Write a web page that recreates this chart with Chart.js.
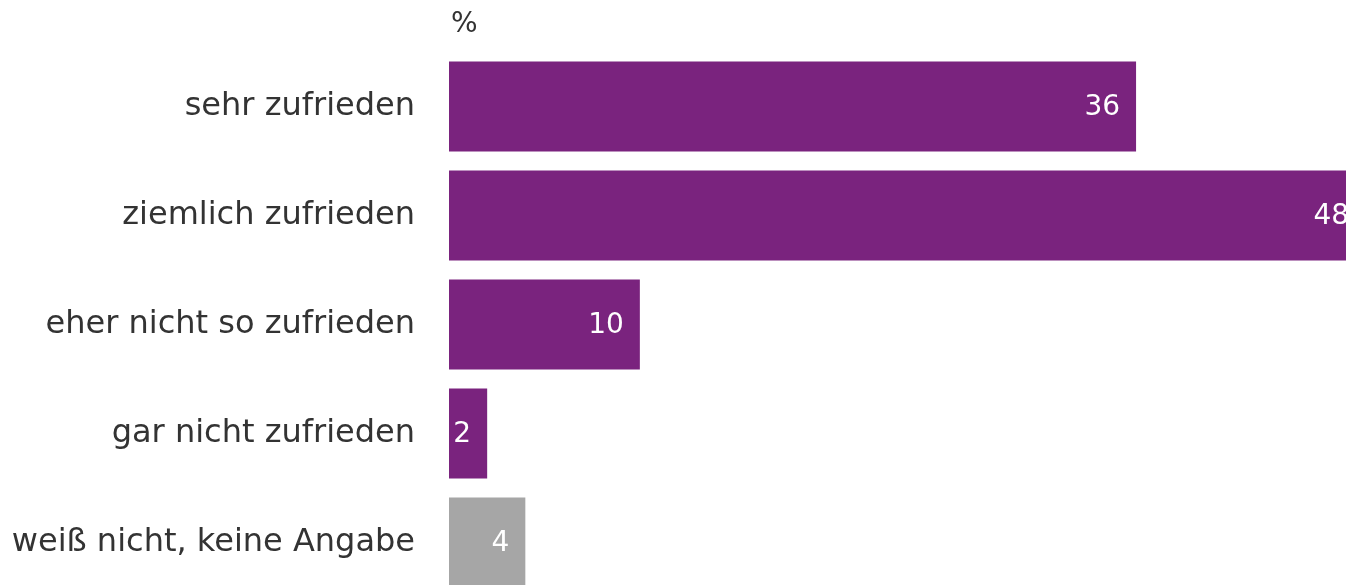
<!DOCTYPE html>
<html>
<head>
<meta charset="utf-8">
<script src="https://cdn.jsdelivr.net/npm/chart.js@4"></script>
<style>
  html, body { margin: 0; padding: 0; background: #fff; overflow: hidden; }
  canvas { display: block; }
</style>
</head>
<body>
<canvas id="chart" width="1346" height="597"></canvas>
<script>
const categories = ["sehr zufrieden", "ziemlich zufrieden", "eher nicht so zufrieden", "gar nicht zufrieden", "weiß nicht, keine Angabe"];
const values = [36, 48, 10, 2, 4];
const barColors = ["#7a237e", "#7a237e", "#7a237e", "#7a237e", "#a6a6a6"];
const unitLabel = "%";

const FONT = "'DejaVu Sans', Verdana, sans-serif";
const SIZE = 32;

// value inside the bar end, plus the unit above the bars
const valueLabels = {
  id: "valueLabels",
  afterDatasetsDraw(chart) {
    const ctx = chart.ctx;
    const meta = chart.getDatasetMeta(0);
    ctx.save();
    ctx.font = "28px " + FONT;
    ctx.fillStyle = "#ffffff";
    ctx.textAlign = "right";
    ctx.textBaseline = "middle";
    meta.data.forEach((bar, i) => {
      ctx.fillText(String(values[i]), bar.x - 16, bar.y + 1);
    });
    ctx.fillStyle = "#333333";
    ctx.textAlign = "left";
    ctx.textBaseline = "alphabetic";
    ctx.fillText(unitLabel, chart.chartArea.left + 2, 32);
    ctx.restore();
  }
};

new Chart(document.getElementById("chart"), {
  type: "bar",
  data: {
    labels: categories,
    datasets: [{
      data: values,
      backgroundColor: barColors,
      borderWidth: 0,
      categoryPercentage: 1,
      barPercentage: 0.826
    }]
  },
  options: {
    indexAxis: "y",
    responsive: false,
    animation: false,
    layout: { padding: { top: 52, bottom: 0, left: 0, right: 0 } },
    plugins: {
      legend: { display: false },
      tooltip: { enabled: false }
    },
    scales: {
      x: {
        display: false,
        min: 0,
        max: 47
      },
      y: {
        grid: { display: false, drawTicks: false },
        border: { display: false },
        ticks: {
          color: "#333333",
          padding: 34,
          font: { family: FONT, size: SIZE }
        },
        afterFit(scale) {
          scale.width = 449;
          scale.paddingTop = 0;
          scale.paddingBottom = 0;
        }
      }
    }
  },
  plugins: [valueLabels]
});
</script>
</body>
</html>
